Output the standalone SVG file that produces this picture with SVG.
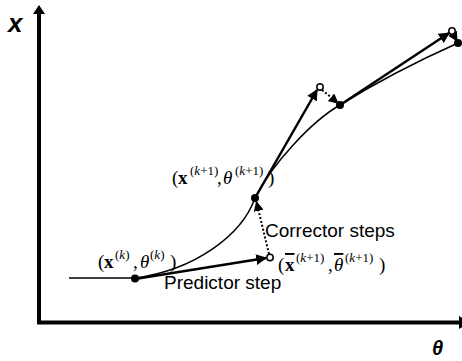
<svg xmlns="http://www.w3.org/2000/svg" width="462" height="361" viewBox="0 0 462 361">
<style>
.axis{stroke:#000;stroke-width:4;fill:none}
.curve{stroke:#000;stroke-width:1.5;fill:none}
.pred{stroke:#000;stroke-width:2.5;fill:none}
.corr{stroke:#000;stroke-width:2;fill:none;stroke-dasharray:2,2}
.node{fill:#000}
.open{fill:#fff;stroke:#000;stroke-width:1.5}
.lbl{font-family:"Liberation Sans",Arial,sans-serif;font-size:19px;fill:#000}
.ax{font-family:"Liberation Sans",Arial,sans-serif;font-weight:bold;font-style:italic;fill:#000}
.m{font-family:"Liberation Serif","Times New Roman",serif;font-size:19px;fill:#000}
.s{font-size:13px}
.b{font-weight:bold}
.i{font-style:italic}
.ol{text-decoration:overline}
</style>
<defs>
<marker id="ah" viewBox="0 0 10 10" refX="9" refY="5" markerWidth="4.4" markerHeight="4.4" orient="auto" markerUnits="strokeWidth">
<path d="M0,0 L10,5 L0,10 z" fill="#000"/>
</marker>
<marker id="ahd" viewBox="0 0 10 10" refX="9" refY="5" markerWidth="5" markerHeight="5" orient="auto" markerUnits="strokeWidth">
<path d="M0,0 L10,5 L0,10 z" fill="#000"/>
</marker>
</defs>
<g id="axes">
<line class="axis" x1="39" y1="323" x2="39" y2="12"/>
<polygon points="39,5 33,14 45,14" fill="#000"/>
<line class="axis" x1="37" y1="322.5" x2="460" y2="322.5"/>
<polygon points="459,316 459,329 470,322.5" fill="#000"/>
<text class="ax" x="8" y="32" font-size="26">x</text>
<text class="ax" x="432" y="355" font-size="20">θ</text>
</g>
<g id="curve">
<path class="curve" d="M69,278 L135,278 C195,270 242,235 255,198 C272,164 312,121 340,105 C372,85 420,60 458,43"/>
</g>
<g id="connectors">
<line class="pred" x1="135" y1="279" x2="266" y2="258" marker-end="url(#ah)"/>
<line class="corr" x1="269" y1="254" x2="256.5" y2="202" marker-end="url(#ahd)"/>
<line class="pred" x1="255" y1="198" x2="317" y2="90" marker-end="url(#ah)"/>
<line class="corr" x1="322" y1="90" x2="338" y2="103" marker-end="url(#ahd)"/>
<line class="pred" x1="340" y1="105" x2="449" y2="33" marker-end="url(#ah)"/>
<line class="corr" x1="453" y1="34" x2="457" y2="41" marker-end="url(#ahd)"/>
</g>
<g id="n-k">
<circle class="node" cx="135" cy="278.5" r="4"/>
<text class="m" y="268"><tspan x="98">(</tspan><tspan x="104" class="b">x</tspan><tspan x="115" dy="-9" class="s">(<tspan class="i">k</tspan>)</tspan><tspan x="133" dy="9">,</tspan><tspan x="140" class="i">θ</tspan><tspan x="150" dy="-9" class="s">(<tspan class="i">k</tspan>)</tspan><tspan x="170" dy="9">)</tspan></text>
</g>
<g id="n-pred1">
<circle class="open" cx="270" cy="257.5" r="3.2"/>
<text class="m" y="271"><tspan x="278">(</tspan><tspan x="285" class="b ol">x</tspan><tspan x="296" dy="-9" class="s">(<tspan class="i">k</tspan>+1)</tspan><tspan x="328" dy="9">,</tspan><tspan x="334" class="i ol">θ</tspan><tspan x="345" dy="-9" class="s">(<tspan class="i">k</tspan>+1)</tspan><tspan x="379" dy="9">)</tspan></text>
</g>
<g id="n-k1">
<circle class="node" cx="255" cy="198" r="4"/>
<text class="m" y="184"><tspan x="172">(</tspan><tspan x="178" class="b">x</tspan><tspan x="190" dy="-9" class="s">(<tspan class="i">k</tspan>+1)</tspan><tspan x="217" dy="9">,</tspan><tspan x="223" class="i">θ</tspan><tspan x="235" dy="-9" class="s">(<tspan class="i">k</tspan>+1)</tspan><tspan x="268" dy="9">)</tspan></text>
</g>
<g id="n-pred2">
<circle class="open" cx="320" cy="87" r="3.2"/>
</g>
<g id="n-k2">
<circle class="node" cx="340" cy="105" r="4"/>
</g>
<g id="n-pred3">
<circle class="open" cx="452" cy="31" r="3.2"/>
</g>
<g id="n-k3">
<circle class="node" cx="458" cy="43" r="4"/>
</g>
<g id="labels">
<text class="lbl" x="265" y="237">Corrector steps</text>
<text class="lbl" x="164" y="289">Predictor step</text>
</g>
</svg>
